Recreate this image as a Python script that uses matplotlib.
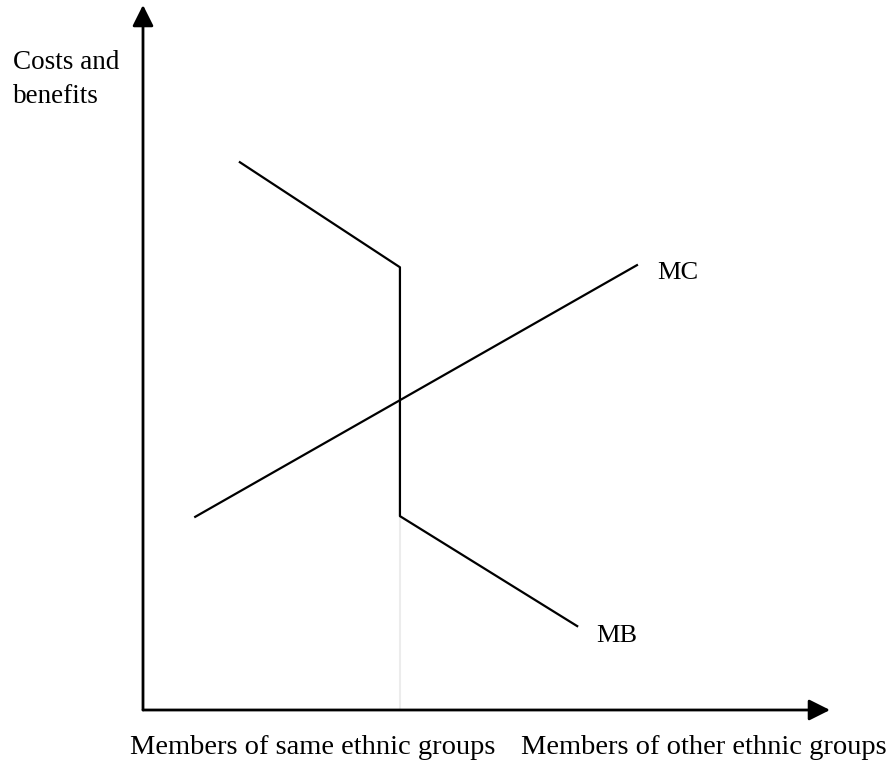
import matplotlib
matplotlib.use("Agg")
import matplotlib.pyplot as plt

# curve data (arbitrary units, origin at the axes corner)
mb_x = [1.41, 3.74, 3.74, 6.32]
mb_y = [7.77, 6.28, 2.75, 1.19]
mc_x = [0.76, 7.19]
mc_y = [2.74, 6.31]
guide_x = [3.74, 3.74]
guide_y = [0.0, 2.75]

y_label = "Costs and\nbenefits"
x_label_left = "Members of same ethnic groups"
x_label_right = "Members of other ethnic groups"

plt.rcParams['font.family'] = ['Liberation Serif', 'DejaVu Serif']

W, H = 889, 769
fig = plt.figure(figsize=(W / 100, H / 100), dpi=100)
# axes corner at pixel (143, 710), arrow tips at x=830 and y=5
ax = fig.add_axes([143 / W, (H - 710) / H, 687 / W, 705 / H])
ax.set_xlim(0, 10)
ax.set_ylim(0, 10)
ax.axis('off')

arrow = dict(arrowstyle='-|>', mutation_scale=32, lw=2, color='black',
             shrinkA=0, shrinkB=0)
ax.annotate('', xy=(0, 10), xytext=(0, 0), arrowprops=arrow, annotation_clip=False)
ax.annotate('', xy=(10, 0), xytext=(0, 0), arrowprops=arrow, annotation_clip=False)

ax.plot(guide_x, guide_y, color='#ececec', lw=1.5, clip_on=False)
ax.plot(mb_x, mb_y, color='black', lw=1.6, clip_on=False)
ax.plot(mc_x, mc_y, color='black', lw=1.6, clip_on=False)

ax.text(7.48, 6.2, "MC", fontsize=19, va='center', ha='left')
ax.text(6.6, 1.05, "MB", fontsize=19, va='center', ha='left')

fig.text(13 / W, 1 - 50 / H, y_label, fontsize=19.5, va='top', ha='left',
         linespacing=1.45)
fig.text(130 / W, 1 - 748 / H, x_label_left, fontsize=20.5, va='center', ha='left')
fig.text(887 / W, 1 - 748 / H, x_label_right, fontsize=20.5, va='center', ha='right')

fig.savefig("out.png", dpi=100)
